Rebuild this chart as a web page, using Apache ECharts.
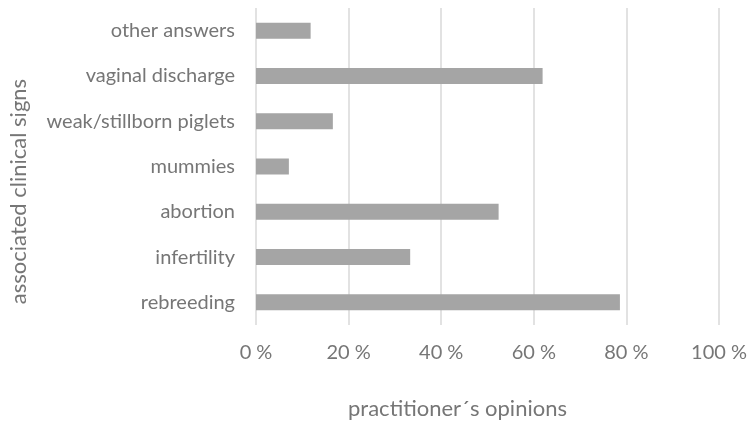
<!DOCTYPE html>
<html>
<head>
<meta charset="utf-8">
<script src="https://cdn.jsdelivr.net/npm/echarts@6/dist/echarts.min.js"></script>
<style>html,body{margin:0;padding:0;background:#fff}#c{width:750px;height:430px}</style>
</head>
<body>
<div id="c"></div>
<script>
const categories = ['other answers','vaginal discharge','weak/stillborn piglets','mummies','abortion','infertility','rebreeding'];
const values = [11.8, 61.9, 16.6, 7.1, 52.4, 33.3, 78.6];
const xTicks = [0, 20, 40, 60, 80, 100];

const FONT = 'Lato';
const chart = echarts.init(document.getElementById('c'));
chart.setOption({
  animation: false,
  grid: {left: 256, right: 31, top: 8, bottom: 105, containLabel: false},
  xAxis: {
    type: 'value', min: xTicks[0], max: xTicks[xTicks.length-1], interval: 20,
    axisLine: {show: false}, axisTick: {show: false},
    splitLine: {lineStyle: {color: '#d9d9d9', width: 1.5}},
    axisLabel: {formatter: '{value} %', color: '#767676', fontFamily: FONT, fontSize: 20, margin: 18},
    name: 'practitioner´s opinions', nameLocation: 'middle', nameGap: 73,
    nameTextStyle: {color: '#767676', fontFamily: FONT, fontSize: 22, padding: [0, 60, 0, 0]}
  },
  yAxis: {
    type: 'category', data: categories, inverse: true,
    axisLine: {show: false}, axisTick: {show: false},
    axisLabel: {color: '#767676', fontFamily: FONT, fontSize: 20, margin: 21},
    name: 'associated clinical signs', nameLocation: 'middle', nameGap: 226,
    nameTextStyle: {color: '#767676', fontFamily: FONT, fontSize: 22, padding: [0, 50, 0, 0]}
  },
  series: [{
    type: 'bar', data: values, barWidth: 16,
    itemStyle: {color: '#a5a5a5'}
  }]
});
</script>
</body>
</html>
